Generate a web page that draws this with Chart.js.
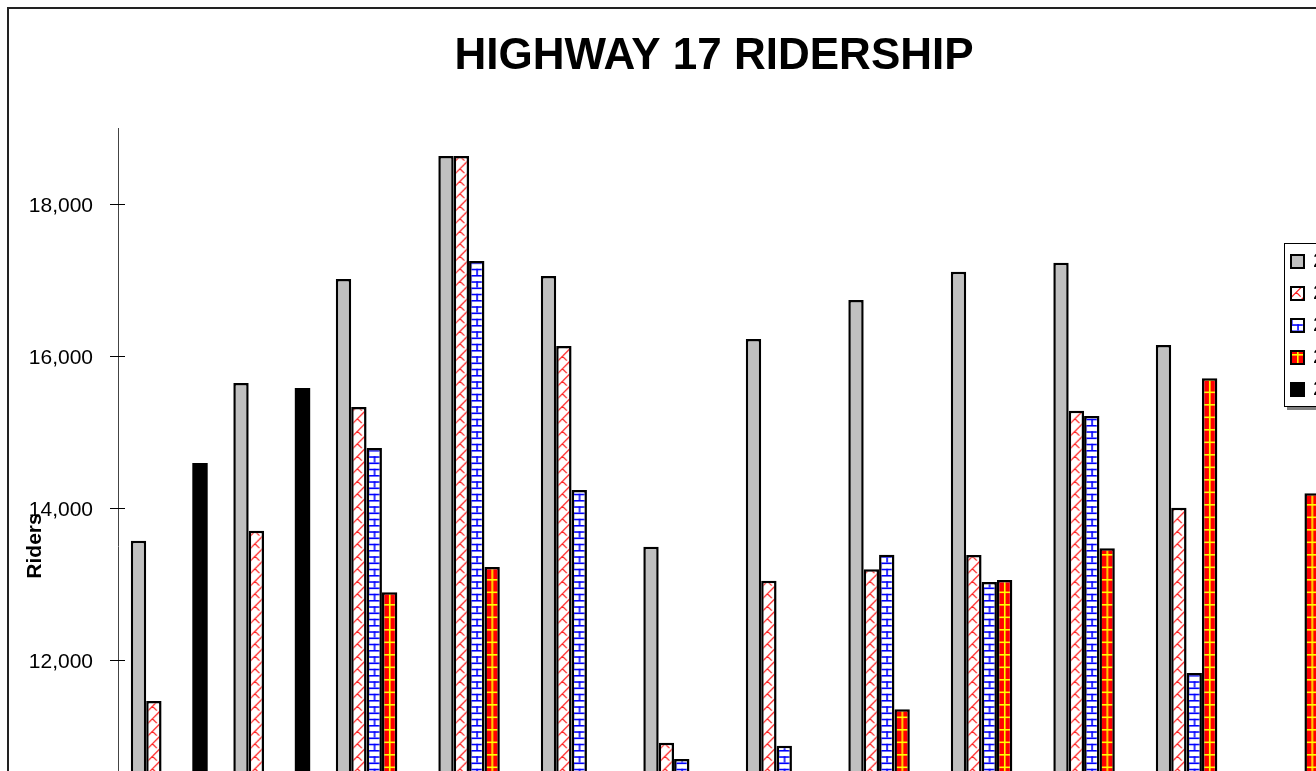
<!DOCTYPE html>
<html>
<head>
<meta charset="utf-8">
<script src="https://cdn.jsdelivr.net/npm/chart.js@4.4.1/dist/chart.umd.min.js"></script>
<style>
html,body{margin:0;padding:0;overflow:hidden;background:#fff;width:1316px;height:771px}
#wrap{position:absolute;left:0;top:0;width:1428px;height:1080px}
canvas{display:block}
</style>
</head>
<body>
<div id="wrap"><canvas id="c" width="1428" height="1080" style="width:1428px;height:1080px"></canvas></div>
<script>
// ---------------- data ----------------
const CATEGORIES = ['Jul','Aug','Sep','Oct','Nov','Dec','Jan','Feb','Mar','Apr','May','Jun'];
const SERIES_NAMES = ['2003-04','2004-05','2005-06','2006-07','2007-08'];
const SERIES_1 = [13570, 15645, 17013, 18632, 17053, 13491, 16224, 16737, 17109, 17228, 16145, 10400];
const SERIES_2 = [11460, 13701, 15329, 18632, 16132, 10912, 13044, 13193, 13382, 15280, 14004, 9900];
const SERIES_3 = [10300, 10450, 14789, 17250, 14237, 10697, 10872, 13386, 13026, 15211, 11829, 9500];
const SERIES_4 = [9600, 10200, 12891, 13224, 10350, 9300, 10250, 11351, 13053, 13470, 15707, 14193];
const SERIES_5 = [14592, 15579, null, null, null, null, null, null, null, null, null, null];
const Y_TICKS = [8000, 10000, 12000, 14000, 16000, 18000];
const Y_MIN = 8000, Y_MAX = 19000;
const TITLE = 'HIGHWAY 17 RIDERSHIP';
const Y_TITLE = 'Riders';

// ---------------- styles ----------------
const FONT = '"Liberation Sans", Arial, Helvetica, sans-serif';
const CAT_PCT = 0.75;
const P = 12.5, U = P / 8;

function makeTile(draw) {
  const c = document.createElement('canvas');
  c.width = 25; c.height = 25;
  const g = c.getContext('2d');
  draw(g);
  return c;
}
const TILES = {
  plaid: makeTile(g => {
    g.fillStyle = '#FF0000'; g.fillRect(0, 0, 25, 25);
    g.fillStyle = '#FFFF00';
    for (let k = 0; k < 2; k++) {
      g.fillRect(7.0 + k * P, 0, 1.6, 25);
      g.fillRect(0, 4 + k * P, 25, 1.6);
    }
  }),
  brick: makeTile(g => {
    g.fillStyle = '#FFFFFF'; g.fillRect(0, 0, 25, 25);
    g.fillStyle = '#0000FF';
    for (let i = 0; i < 2; i++) for (let j = 0; j < 2; j++) {
      const ox = i * P, oy = j * P;
      g.fillRect(ox, oy, P, U);
      g.fillRect(ox, oy + 4 * U, P, U);
      g.fillRect(ox + 1, oy, U, 4 * U);
      g.fillRect(ox + 1 + 4 * U, oy + 4 * U, U, 4 * U);
    }
  }),
  hatch: makeTile(g => {
    g.fillStyle = '#FFFFFF'; g.fillRect(0, 0, 25, 25);
    g.strokeStyle = '#FF2020'; g.lineWidth = 1.2;
    g.beginPath();
    for (let i = -1; i < 3; i++) for (let j = -1; j < 3; j++) {
      const ox = i * P, oy = j * P;
      g.moveTo(ox, oy + P); g.lineTo(ox + P, oy);
      g.moveTo(ox + P / 2, oy + P / 2); g.lineTo(ox + P * 0.85, oy + P * 0.85);
    }
    g.stroke();
  })
};

function barPattern(kind, dsIndex) {
  return (ctx) => {
    const chart = ctx.chart;
    const xs = chart.scales && chart.scales.x;
    const pat = chart.ctx.createPattern(TILES[kind], 'repeat');
    if (ctx.type === 'data' && xs && xs.width) {
      const cat = xs.width / CATEGORIES.length;
      const grp = cat * CAT_PCT;
      const left = xs.getPixelForValue(ctx.dataIndex) - grp / 2 + dsIndex * grp / 5;
      pat.setTransform(new DOMMatrix([1, 0, 0, 1, left, 0]));
    }
    return pat;
  };
}

// ---------------- plugins ----------------
const frame = {
  id: 'frame',
  beforeDraw(chart) {
    const g = chart.ctx;
    g.save();
    g.fillStyle = '#fff';
    g.fillRect(0, 0, chart.width, chart.height);
    g.strokeStyle = '#222';
    g.lineWidth = 2;
    g.strokeRect(8, 8, chart.width - 16, chart.height - 16);
    g.restore();
  }
};

const innerTicks = {
  id: 'innerTicks',
  afterDraw(chart) {
    const ys = chart.scales.y, g = chart.ctx;
    g.save();
    g.strokeStyle = '#000'; g.lineWidth = 1;
    ys.ticks.forEach(t => {
      const y = Math.round(ys.getPixelForValue(t.value) - 0.5) + 0.5;
      g.beginPath(); g.moveTo(ys.right, y); g.lineTo(ys.right + 7, y); g.stroke();
    });
    g.restore();
  }
};

const boxLegend = {
  id: 'boxLegend',
  afterDraw(chart) {
    const g = chart.ctx;
    const L = 1284, T = 243, W = 122, H = 164;
    g.save();
    g.fillStyle = '#808080'; g.fillRect(L + 3, T + 3, W, H);
    g.fillStyle = '#fff'; g.fillRect(L, T, W, H);
    g.strokeStyle = '#000'; g.lineWidth = 1; g.strokeRect(L + 0.5, T + 0.5, W - 1, H - 1);
    chart.data.datasets.forEach((ds, i) => {
      const cy = 261 + i * 32;
      const sx = 1290, sy = Math.round(cy - 7.5), s = 15;
      g.fillStyle = '#000'; g.fillRect(sx, sy, s, s);
      let fill = ds.swatchColor;
      if (ds.swatchKind) {
        fill = g.createPattern(TILES[ds.swatchKind], 'repeat');
        fill.setTransform(new DOMMatrix([1, 0, 0, 1, sx, sy]));
      }
      g.fillStyle = fill; g.fillRect(sx + 2, sy + 2, s - 4, s - 4);
      g.fillStyle = '#000';
      g.font = '21px ' + FONT;
      g.textBaseline = 'middle'; g.textAlign = 'left';
      g.fillText(ds.label, 1313, cy);
    });
    g.restore();
  }
};

// ---------------- chart ----------------
const barBase = { borderColor: '#000', borderWidth: 2.5 };
new Chart(document.getElementById('c'), {
  type: 'bar',
  data: {
    labels: CATEGORIES,
    datasets: [
      Object.assign({ label: SERIES_NAMES[0], data: SERIES_1, backgroundColor: '#C0C0C0', swatchColor: '#C0C0C0' }, barBase),
      Object.assign({ label: SERIES_NAMES[1], data: SERIES_2, backgroundColor: barPattern('hatch', 1), swatchKind: 'hatch' }, barBase),
      Object.assign({ label: SERIES_NAMES[2], data: SERIES_3, backgroundColor: barPattern('brick', 2), swatchKind: 'brick' }, barBase),
      Object.assign({ label: SERIES_NAMES[3], data: SERIES_4, backgroundColor: barPattern('plaid', 3), swatchKind: 'plaid' }, barBase),
      { label: SERIES_NAMES[4], data: SERIES_5, backgroundColor: '#000000', swatchColor: '#000000', borderColor: '#000', borderWidth: 0 }
    ]
  },
  options: {
    responsive: false,
    animation: false,
    devicePixelRatio: 1,
    events: [],
    layout: { padding: { left: 8, right: 8, top: 8, bottom: 66 } },
    datasets: { bar: { categoryPercentage: CAT_PCT, barPercentage: 1 } },
    plugins: {
      legend: { display: false },
      tooltip: { enabled: false },
      title: {
        display: true, text: TITLE, color: '#000',
        font: { family: FONT, size: 44, weight: 'bold', lineHeight: 1.2 },
        padding: { top: 22.5, bottom: 44.7 }
      }
    },
    scales: {
      x: {
        type: 'category',
        grid: { display: false },
        border: { display: true, color: '#000', width: 1 },
        ticks: { color: '#000', font: { family: FONT, size: 21 }, maxRotation: 0 },
        afterFit(s) { s.height = 50; }
      },
      y: {
        type: 'linear', position: 'left', min: Y_MIN, max: Y_MAX,
        afterBuildTicks(s) { s.ticks = Y_TICKS.map(v => ({ value: v })); },
        afterFit(s) { s.width = 110; },
        grid: { drawOnChartArea: false, drawTicks: true, tickLength: 8, color: '#000', tickColor: '#000', lineWidth: 1 },
        border: { display: true, color: '#444', width: 1 },
        ticks: { color: '#000', padding: 17, labelOffset: 2, font: { family: FONT, size: 21 }, callback: v => Number(v).toLocaleString('en-US') },
        title: { display: true, text: Y_TITLE, color: '#000', font: { family: FONT, size: 21, weight: 'bold', lineHeight: 1.2 }, padding: { top: 15, bottom: 0 } }
      },
      yR: {
        type: 'linear', position: 'right', display: true,
        grid: { display: false, drawTicks: false },
        ticks: { display: false },
        border: { display: false },
        title: { display: false },
        afterFit(s) { s.width = 72; }
      }
    }
  },
  plugins: [frame, innerTicks, boxLegend]
});
</script>
</body>
</html>
